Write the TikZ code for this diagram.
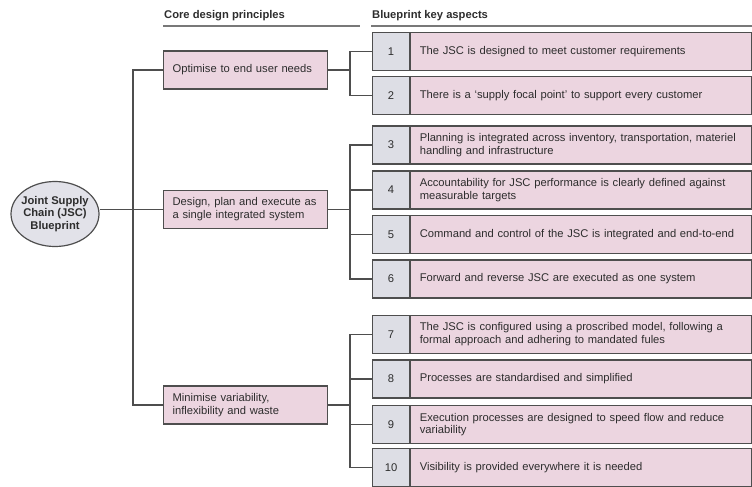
\documentclass[tikz,border=0pt]{standalone}
\usepackage{fontspec}
\setmainfont{Liberation Sans}
\usetikzlibrary{shapes.geometric}

\definecolor{pinkfill}{RGB}{236,213,224}
\definecolor{greyfill}{RGB}{221,222,229}
\definecolor{ovalfill}{RGB}{226,226,233}
\definecolor{edge}{RGB}{78,78,78}
\definecolor{ink}{RGB}{45,45,45}
\definecolor{rulegrey}{RGB}{120,120,120}

\tikzset{
  txt/.style={font=\fontsize{11.2}{12.8}\selectfont, text=ink},
  head/.style={font=\fontsize{11.2}{12.8}\selectfont\bfseries, text=ink, inner sep=0pt},
  headrule/.style={draw=rulegrey, line width=1.8pt},
  principle/.style={txt, draw=edge, fill=pinkfill, line width=1.2pt, anchor=west,
    minimum width=164pt, minimum height=38pt, text width=146pt, inner xsep=9pt,
    inner ysep=0pt, align=left},
  numcell/.style={txt, draw=edge, fill=greyfill, line width=1.2pt, anchor=west,
    minimum width=37pt, minimum height=38pt, inner sep=0pt},
  aspect/.style={txt, draw=edge, fill=pinkfill, line width=1.2pt, anchor=west,
    minimum width=341pt, minimum height=38pt, text width=323pt, inner xsep=9pt,
    inner ysep=0pt, align=left},
  hub/.style={txt, font=\fontsize{11.2}{12.6}\selectfont\bfseries, ellipse,
    draw=edge, fill=ovalfill, line width=1.2pt, minimum width=88pt,
    minimum height=65pt, inner sep=-4pt, align=center},
  link/.style={draw=edge, line width=1.2pt}
}

\begin{document}
\begin{tikzpicture}[x=1pt, y=-1pt]
  \useasboundingbox (0,0) rectangle (752,487);

  % column headings
  \node[head, anchor=base west] (hcore) at (164,19) {Core design principles};
  \node[head, anchor=base west] (hkey) at (372,19) {Blueprint key aspects};
  \draw[headrule] (163,26) -- (360,26);
  \draw[headrule] (371,26) -- (752,26);

  % root
  \node[hub] (root) at (55,214) {Joint Supply\\Chain (JSC)\\Blueprint};

  % core design principles
  \node[principle] (p1) at (163,70) {Optimise to end user needs};
  \node[principle] (p2) at (163,209.5) {Design, plan and execute as\\a single integrated system};
  \node[principle] (p3) at (163,405) {Minimise variability,\\inflexibility and waste};

  % key aspects: number cell plus description cell
  \node[numcell] (n1) at (372,51.5) {1};
  \node[aspect] (a1) at (n1.east) {The JSC is designed to meet customer requirements};
  \node[numcell] (n2) at (372,95.5) {2};
  \node[aspect] (a2) at (n2.east) {There is a `supply focal point' to support every customer};

  \node[numcell] (n3) at (372,145) {3};
  \node[aspect] (a3) at (n3.east) {Planning is integrated across inventory, transportation, materiel\\handling and infrastructure};
  \node[numcell] (n4) at (372,190) {4};
  \node[aspect] (a4) at (n4.east) {Accountability for JSC performance is clearly defined against\\measurable targets};
  \node[numcell] (n5) at (372,234.5) {5};
  \node[aspect] (a5) at (n5.east) {Command and control of the JSC is integrated and end-to-end};
  \node[numcell] (n6) at (372,279) {6};
  \node[aspect] (a6) at (n6.east) {Forward and reverse JSC are executed as one system};

  \node[numcell] (n7) at (372,334.5) {7};
  \node[aspect] (a7) at (n7.east) {The JSC is configured using a proscribed model, following a\\formal approach and adhering to mandated fules};
  \node[numcell] (n8) at (372,379) {8};
  \node[aspect] (a8) at (n8.east) {Processes are standardised and simplified};
  \node[numcell] (n9) at (372,424.5) {9};
  \node[aspect] (a9) at (n9.east) {Execution processes are designed to speed flow and reduce\\variability};
  \node[numcell] (n10) at (372,467.5) {10};
  \node[aspect] (a10) at (n10.east) {Visibility is provided everywhere it is needed};

  % junction points
  \coordinate (trunk) at (133,209.5);
  \coordinate (j1) at (350,70);
  \coordinate (j2) at (350,209.5);
  \coordinate (j3) at (350,405);

  % root to principles
  \draw[link] (root.east |- p2.west) -- (p2.west);
  \draw[link] (p1.west) -| (trunk) |- (p3.west);

  % principles to aspects
  \draw[link] (p1.east) -- (j1);
  \draw[link] (n1.west) -| (j1) |- (n2.west);

  \draw[link] (p2.east) -- (j2);
  \draw[link] (n3.west) -| (j2) |- (n6.west);
  \draw[link] (n4.west) -- (n4.west -| j2);
  \draw[link] (n5.west) -- (n5.west -| j2);

  \draw[link] (p3.east) -- (j3);
  \draw[link] (n7.west) -| (j3) |- (n10.west);
  \draw[link] (n8.west) -- (n8.west -| j3);
  \draw[link] (n9.west) -- (n9.west -| j3);
\end{tikzpicture}
\end{document}
